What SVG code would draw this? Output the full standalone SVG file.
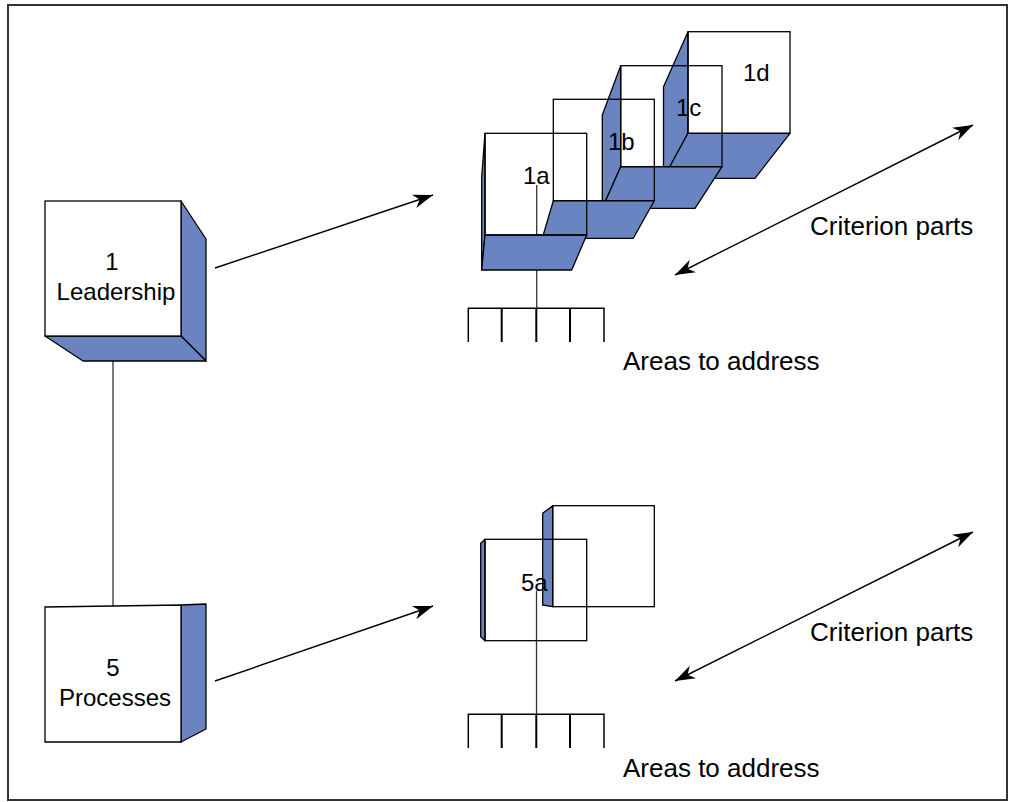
<svg xmlns="http://www.w3.org/2000/svg" width="1010" height="802" viewBox="0 0 1010 802">
<style>
.face{fill:#6a84c2;stroke:#000;stroke-width:1.3;stroke-linejoin:round}
.front{fill:none;stroke:#000;stroke-width:1.3}
.frontw{fill:#fff;stroke:#000;stroke-width:1.3}
.conn{fill:none;stroke:#333;stroke-width:1.3}
.arrow{fill:none;stroke:#000;stroke-width:1.4}
.comb{fill:none;stroke:#000;stroke-width:2}
.lbl{font-family:"Liberation Sans",Arial,Helvetica,sans-serif;font-size:24px;fill:#000}
.side{font-family:"Liberation Sans",Arial,Helvetica,sans-serif;font-size:26px;fill:#000}
</style>
<defs>
<marker id="ah" viewBox="-21 -8 22 16" refX="0" refY="0" markerWidth="22" markerHeight="16" markerUnits="userSpaceOnUse" orient="auto-start-reverse">
<path d="M0,0 L-20,-7 L-14,0 L-20,7 Z" fill="#000"/>
</marker>
</defs>
<rect x="8" y="5" width="999" height="795" fill="#fff" stroke="#333" stroke-width="2"/>

<g id="connectors">
<line class="conn" x1="113" y1="336" x2="113" y2="607"/>
<line class="conn" x1="536.7" y1="185" x2="536.7" y2="308"/>
<line class="conn" x1="536.5" y1="591" x2="536.5" y2="714"/>
<line class="arrow" x1="215" y1="268" x2="433" y2="195" marker-end="url(#ah)"/>
<line class="arrow" x1="215" y1="681" x2="433" y2="606" marker-end="url(#ah)"/>
<line class="arrow" x1="675" y1="275" x2="973" y2="125" marker-start="url(#ah)" marker-end="url(#ah)"/>
<line class="arrow" x1="675" y1="681" x2="973" y2="532" marker-start="url(#ah)" marker-end="url(#ah)"/>
</g>

<g id="leadership">
<polygon class="face" points="181,201 206,239 206,361 181,336"/>
<polygon class="face" points="45,336 181,336 206,361 83,361"/>
<rect class="frontw" x="45" y="201" width="136" height="135"/>
<text class="lbl" x="112" y="270" text-anchor="middle">1</text>
<text class="lbl" x="116" y="300" text-anchor="middle">Leadership</text>
</g>

<g id="processes">
<polygon class="face" points="181,605 206,604 206,729 181,742"/>
<polygon class="frontw" points="45,607 181,605 181,742 45,742"/>
<text class="lbl" x="113" y="676" text-anchor="middle">5</text>
<text class="lbl" x="115" y="706" text-anchor="middle">Processes</text>
</g>

<g id="part-1d">
<polygon class="face" points="688,31.7 663.5,86.7 663.5,178.3 688,133.3"/>
<polygon class="face" points="688,133.3 790,133.3 755,178.3 663.5,178.3"/>
<rect class="front" x="688" y="31.7" width="102" height="101.6"/>
<text class="lbl" x="743" y="81">1d</text>
</g>

<g id="part-1c">
<polygon class="face" points="620.7,65.7 602.3,115 602.3,208.3 620.7,166.7"/>
<polygon class="face" points="620.7,166.7 722,166.7 695,208.3 602.3,208.3"/>
<rect class="front" x="620.7" y="65.7" width="101.3" height="101"/>
<text class="lbl" x="676" y="116">1c</text>
</g>

<g id="part-1b">
<polygon class="face" points="553.3,200.7 654.3,200.7 633.3,238.3 542.3,238.3"/>
<rect class="front" x="553.3" y="99.3" width="101" height="101.4"/>
<text class="lbl" x="608" y="150">1b</text>
</g>

<g id="part-1a">
<polygon class="face" points="485,133.3 481.7,177 481.7,270 485,235"/>
<polygon class="face" points="485,235 586.7,235 571.7,270 481.7,270"/>
<rect class="front" x="485" y="133.3" width="101.7" height="101.7"/>
<text class="lbl" x="523" y="184">1a</text>
</g>

<g id="areas-1">
<polyline class="comb" points="468.3,342 468.3,308.3 604,308.3 604,342" style="stroke-width:1.5"/>
<line class="comb" x1="501.7" y1="308.3" x2="501.7" y2="342"/>
<line class="comb" x1="536.3" y1="308.3" x2="536.3" y2="342"/>
<line class="comb" x1="570" y1="308.3" x2="570" y2="342"/>
<text class="side" x="623" y="370">Areas to address</text>
</g>

<g id="criterion-1">
<text class="side" x="810" y="235">Criterion parts</text>
</g>

<g id="part-5b">
<polygon class="face" points="552.7,505.7 542.7,513.3 542.7,605 552.7,606.7"/>
<rect class="front" x="552.7" y="505.7" width="101.6" height="101"/>
</g>

<g id="part-5a">
<polygon class="face" points="485,539.3 480.7,543.3 480.7,636.7 485,640.7"/>
<rect class="front" x="485" y="539.3" width="101.7" height="101.4"/>
<text class="lbl" x="521" y="591">5a</text>
</g>

<g id="areas-5">
<polyline class="comb" points="468.3,748 468.3,714.3 604,714.3 604,748" style="stroke-width:1.5"/>
<line class="comb" x1="501.7" y1="714.3" x2="501.7" y2="748"/>
<line class="comb" x1="536.3" y1="714.3" x2="536.3" y2="748"/>
<line class="comb" x1="570" y1="714.3" x2="570" y2="748"/>
<text class="side" x="623" y="777">Areas to address</text>
</g>

<g id="criterion-5">
<text class="side" x="810" y="641">Criterion parts</text>
</g>
</svg>
